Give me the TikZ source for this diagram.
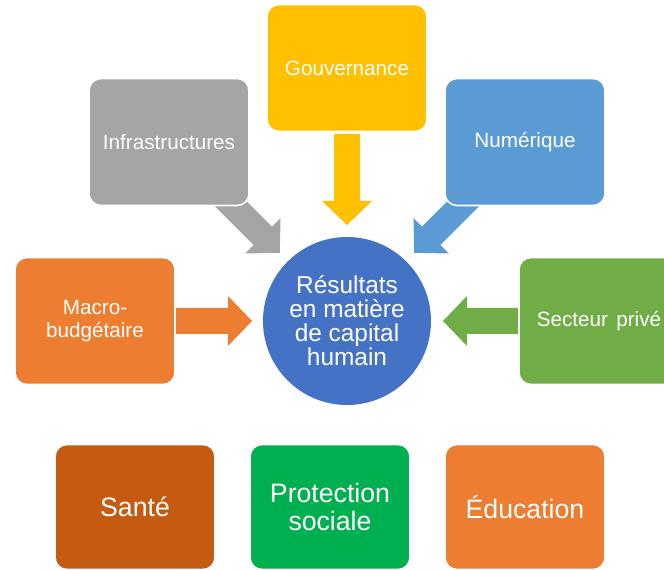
\documentclass[tikz,border=0pt]{standalone}
\usepackage{fontspec}
\setmainfont{Liberation Sans}
\definecolor{cgray}{HTML}{A5A5A5}
\definecolor{cyellow}{HTML}{FFC000}
\definecolor{cblue}{HTML}{5B9BD5}
\definecolor{corange}{HTML}{ED7D31}
\definecolor{cgreen}{HTML}{70AD47}
\definecolor{ccircle}{HTML}{4472C4}
\definecolor{cbrown}{HTML}{C55A11}
\definecolor{cpgreen}{HTML}{00B050}
\newcommand\blockarr[4]{%
  \begin{scope}[shift={#2},rotate=#3]
    \fill[#1] (0,-13) -- (#4-24,-13) -- (#4-24,-25) -- (#4,0) -- (#4-24,25) -- (#4-24,13) -- (0,13) -- cycle;
  \end{scope}}
\begin{document}
\begin{tikzpicture}[x=0.75pt,y=-0.75pt,
  box/.style={rectangle, rounded corners=9pt, draw=white, line width=1.2pt,
    minimum width=160*0.75pt, minimum height=127*0.75pt, inner sep=0pt,
    text=white, align=center, font=\fontsize{15.5pt}{18pt}\selectfont},
  bigbox/.style={box, minimum height=125*0.75pt, font=\fontsize{20pt}{21pt}\selectfont}]
\useasboundingbox (0,0) rectangle (664,570);
\clip (0,0) rectangle (664,570);
% arrows
\blockarr{cyellow}{(347,134)}{-90}{91}
\blockarr{cgray}{(190,163)}{-45}{127}
\blockarr{cblue}{(504,163)}{-135}{127}
\blockarr{corange}{(172,321)}{0}{80}
\blockarr{cgreen}{(522,321)}{180}{79}
% boxes
\node[box, fill=cyellow] (gov) at (347,68) {Gouvernance};
\node[box, fill=cgray] (infra) at (169,142) {Infrastructures};
\node[box, fill=cblue] (num) at (525,142) {Numérique};
\node[box, fill=corange] (macro) at (95,321) {Macro-\\[-1pt]budgétaire};
\node[box, fill=cgreen] (priv) at (599,321) {Secteur\hspace{0.4em}privé};
% circle
\node[circle, fill=ccircle, minimum size=168*0.75pt, inner sep=0pt, text=white,
  align=center, font=\fontsize{18.3pt}{18pt}\selectfont] (res) at (347,321)
  {Résultats\\en matière\\de capital\\humain};
% bottom boxes
\node[bigbox, fill=cbrown] (sante) at (135,507) {Santé};
\node[bigbox, fill=cpgreen] (prot) at (330,507) {Protection\\sociale};
\node[bigbox, fill=corange] (edu) at (525,507) {Éducation};
\end{tikzpicture}
\end{document}
